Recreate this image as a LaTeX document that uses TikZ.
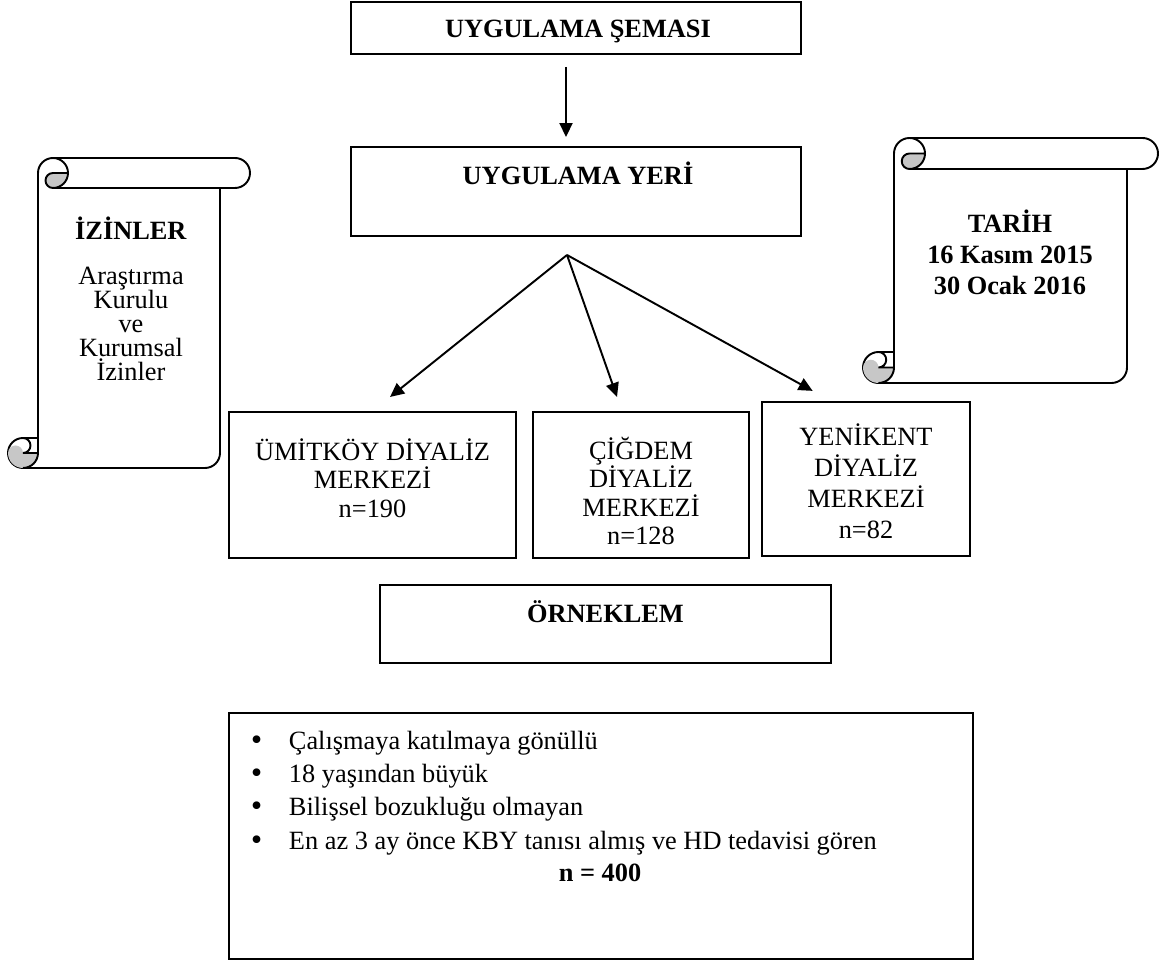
\documentclass[tikz,border=0pt]{standalone}
\usepackage{fontspec}
\setmainfont{Liberation Serif}
\newfontfamily\symfont{DejaVu Sans}
\usetikzlibrary{arrows.meta}
\definecolor{rollgrey}{gray}{0.78}
% rolled paper sheet: left, top, width, height, roll size
\newcommand\ScrollShape[5]{
  \begin{scope}[shift={(#1,#2)}]
    \pgfmathsetmacro\rl{#5}
    \pgfmathsetmacro\rlh{#5/2}
    \pgfmathsetmacro\rlq{#5/4}
    \pgfmathsetmacro\scw{#3}
    \pgfmathsetmacro\sch{#4}
    \draw[fill=white] (\rl,\sch-\rl) -- (\rl,\rlh) arc[start angle=180,end angle=270,radius=\rlh] -- (\scw-\rlh,0) arc[start angle=270,end angle=450,radius=\rlh] -- (\scw-\rl,\rl) -- (\scw-\rl,\sch-\rlh) arc[start angle=0,end angle=90,radius=\rlh] -- (\rlh,\sch) arc[start angle=90,end angle=270,radius=\rlh] -- cycle;
    \fill[rollgrey] (2*\rl,\rlh) arc[start angle=0,end angle=90,radius=\rlh] arc[start angle=90,end angle=270,radius=\rlq] -- cycle;
    \fill[rollgrey] (\rl,\sch-\rlh) arc[start angle=0,end angle=180,radius=\rlh] arc[start angle=180,end angle=360,radius=\rlq] -- cycle;
    \draw (\rl+\rlh,0) arc[start angle=270,end angle=450,radius=\rlh] arc[start angle=90,end angle=270,radius=\rlq] -- (2*\rl,\rlh);
    \draw (\scw-\rl,\rl) -- (\rl+\rlh,\rl);
    \draw (\rlh,\sch-\rl) arc[start angle=270,end angle=450,radius=\rlq] -- (\rl,\sch-\rlh);
    \draw (\rlh,\sch) arc[start angle=90,end angle=0,radius=\rlh] -- (\rl,\sch-\rl);
  \end{scope}
}
\newcommand\Blt{{\symfont •}}
\tikzstyle{box}=[rectangle,draw,fill=white,align=center,inner sep=0pt]

\begin{document}
\begin{tikzpicture}[x=0.02cm,y=-0.02cm,line width=1.1pt,>={Triangle[length=0.28cm,width=0.26cm]},font=\fontsize{15}{16.2}\selectfont]
  \useasboundingbox (0,0) rectangle (1164,962);
  \node[box,minimum width=9cm,minimum height=1.04cm] (sema) at (576,28) {};
  \node[] (sematxt) at (578,31) {\textbf{UYGULAMA ŞEMASI}};
  \node[box,minimum width=9cm,minimum height=1.78cm] (yer) at (576,191.5) {};
  \node[] (yertxt) at (578,173) {\textbf{UYGULAMA YERİ}};
  \draw[->,shorten <=0.24cm,shorten >=0.18cm] ([xshift=-0.2cm]sema.south) -- ([xshift=-0.2cm]yer.north);
  % dialysis centres
  \node[box,minimum width=5.74cm,minimum height=2.92cm] (umitkoy) at (372.5,485) {};
  \node[align=center] at (372.5,478) {ÜMİTKÖY DİYALİZ\\MERKEZİ\\n=190};
  \node[box,minimum width=4.32cm,minimum height=2.92cm] (cigdem) at (641,485) {};
  \node[align=center] at (641,491) {ÇİĞDEM\\DİYALİZ\\MERKEZİ\\n=128};
  \node[box,minimum width=4.16cm,minimum height=3.08cm] (yenikent) at (866,479) {};
  \node[align=center,font=\fontsize{15}{17.6}\selectfont] at (866,481) {YENİKENT\\DİYALİZ\\MERKEZİ\\n=82};
  \coordinate (apex) at (567,255);
  \draw[->,shorten >=0.45cm] (apex) -- (umitkoy.north);
  \draw[->,shorten >=0.3cm] (apex) -- ([xshift=-0.38cm]cigdem.north);
  \draw[->,shorten >=0.42cm] (apex) -- ([xshift=-0.7cm]yenikent.north);
  % permissions and dates
  \ScrollShape{8}{158}{242}{310}{30}
  \node[align=center,font=\fontsize{15}{13.7}\selectfont] (izin) at (131,299) {\textbf{İZİNLER}\\[0.42cm]Araştırma\\Kurulu\\ve\\Kurumsal\\İzinler};
  \ScrollShape{863}{138}{295}{245}{31}
  \node[align=center,font=\fontsize{15}{17.6}\selectfont] (tarih) at (1010,252) {\textbf{TARİH}\\\textbf{16 Kasım 2015}\\\textbf{30 Ocak 2016}};
  % sample
  \node[box,minimum width=9.02cm,minimum height=1.56cm] (orneklem) at (605.5,624) {};
  \node[] (ornektxt) at (605.5,612) {\textbf{ÖRNEKLEM}};
  \node[box,minimum width=14.88cm,minimum height=4.92cm] (kriter) at (601,836) {};
  \foreach \txt [count=\i] in {Çalışmaya katılmaya gönüllü,18 yaşından büyük,Bilişsel bozukluğu olmayan,En az 3 ay önce KBY tanısı almış ve HD tedavisi gören}
    \node[anchor=base west,inner sep=0pt] (krit\i) at (248,717+33*\i) {\makebox[0.8cm][l]{\Blt}\txt};
  \node[anchor=base,inner sep=0pt] (nsayi) at (600,882) {\textbf{n = 400}};
\end{tikzpicture}
\end{document}
